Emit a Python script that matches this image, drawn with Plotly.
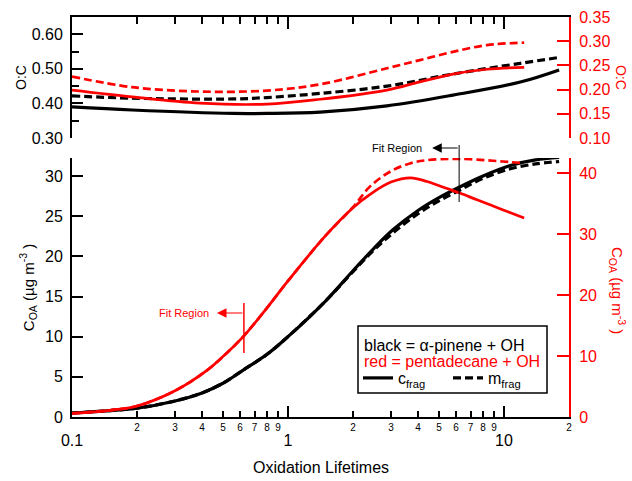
import math
import plotly.graph_objects as go

# ---------------- data ----------------
# top panel (O:C)
x_oc_black = [0.1, 0.19, 0.556, 0.8, 1.41, 2.87, 5.8, 11.9, 18]
oc_black_c = [0.390, 0.381, 0.371, 0.371, 0.375, 0.393, 0.424, 0.462, 0.497]
oc_black_m = [0.422, 0.415, 0.413, 0.417, 0.429, 0.450, 0.485, 0.516, 0.533]

x_oc_red = [0.1, 0.19, 0.39, 0.8, 1.41, 2.87, 4.08, 5.8, 8.34, 12.4]
oc_red_c = [0.199, 0.185, 0.172, 0.170, 0.180, 0.199, 0.216, 0.232, 0.242, 0.246]
oc_red_m = [0.227, 0.205, 0.196, 0.198, 0.211, 0.244, 0.261, 0.278, 0.292, 0.297]

# bottom panel (C_OA)
x_coa_black = [0.1, 0.15, 0.2, 0.3, 0.4, 0.5, 0.625, 0.8, 1.0, 1.5, 2.0, 2.5,
               3.06, 4.0, 5.0, 6.2, 8.0, 10.7, 14, 18]
coa_black_c = [0.5, 0.8, 1.1, 2.0, 3.0, 4.2, 5.9, 7.8, 10.0, 14.5, 18.2, 21.0,
               23.3, 25.7, 27.3, 28.6, 30.0, 31.3, 32.0, 32.3]
coa_black_m = [0.5, 0.8, 1.1, 2.0, 3.0, 4.2, 5.9, 7.8, 10.0, 14.5, 18.1, 20.8,
               22.9, 25.3, 26.9, 28.2, 29.7, 30.9, 31.5, 31.8]

x_coa_red = [0.1, 0.15, 0.2, 0.3, 0.42, 0.5, 0.625, 0.8, 1.0, 1.5, 2.0, 2.4,
             3.0, 3.7, 4.4, 5.5, 6.25, 7.5, 8.9, 10.5, 12.4]
coa_red_c = [0.6, 1.1, 1.8, 4.3, 7.6, 9.9, 13.3, 17.9, 22.3, 29.8, 34.3, 36.5,
             38.5, 39.2, 38.6, 37.4, 36.7, 35.6, 34.6, 33.6, 32.6]
coa_red_m = [0.6, 1.1, 1.8, 4.3, 7.6, 9.9, 13.3, 17.9, 22.3, 29.8, 34.4, 37.8,
             40.3, 41.6, 42.1, 42.3, 42.3, 42.2, 42.0, 41.8, 41.6]

# fit-region boundaries (oxidation lifetimes)
fit_red = 0.625
fit_black = 6.2

# tick labels
minor_vals = [0.2, 0.3, 0.4, 0.5, 0.6, 0.7, 0.8, 0.9, 2, 3, 4, 5, 6, 7, 8, 9, 20]
minor_text = ["2", "3", "4", "5", "6", "7", "8", "9", "2", "3", "4", "5", "6", "7", "8", "9", "2"]
major_vals = [0.1, 1, 10]
major_text = ["0.1", "1", "10"]

# ---------------- figure ----------------
FONT = "Liberation Sans, Arial, sans-serif"
RED = "#ff0000"
BLACK = "#000000"
DASH = "8px,4px"
LWB = 3.2
LWR = 2.7

# plot-area pixel geometry helpers
L, R, T, B = 72, 569, 17, 417
PW, PH = R - L, B - T


def px(xpix):
    return (xpix - L) / PW


def py(ypix):
    return (B - ypix) / PH


fig = go.Figure()

# top panel
fig.add_trace(go.Scatter(x=x_oc_black, y=oc_black_c, mode="lines", line=dict(color=BLACK, width=LWB, shape="spline"),
                         xaxis="x2", yaxis="y3", showlegend=False))
fig.add_trace(go.Scatter(x=x_oc_black, y=oc_black_m, mode="lines", line=dict(color=BLACK, width=LWB, dash=DASH, shape="spline"),
                         xaxis="x2", yaxis="y3", showlegend=False))
fig.add_trace(go.Scatter(x=x_oc_red, y=oc_red_c, mode="lines", line=dict(color=RED, width=LWR, shape="spline"),
                         xaxis="x2", yaxis="y4", showlegend=False))
fig.add_trace(go.Scatter(x=x_oc_red, y=oc_red_m, mode="lines", line=dict(color=RED, width=LWR, dash=DASH, shape="spline"),
                         xaxis="x2", yaxis="y4", showlegend=False))

# bottom panel
fig.add_trace(go.Scatter(x=x_coa_black, y=coa_black_c, mode="lines", line=dict(color=BLACK, width=LWB, shape="spline"),
                         xaxis="x", yaxis="y", name="c<sub>frag</sub>", showlegend=True))
fig.add_trace(go.Scatter(x=x_coa_black, y=coa_black_m, mode="lines", line=dict(color=BLACK, width=LWB, dash=DASH, shape="spline"),
                         xaxis="x", yaxis="y", name="m<sub>frag</sub>", showlegend=True))
fig.add_trace(go.Scatter(x=x_coa_red, y=coa_red_m, mode="lines", line=dict(color=RED, width=LWR, dash=DASH, shape="spline"),
                         xaxis="x", yaxis="y2", showlegend=False))
fig.add_trace(go.Scatter(x=x_coa_red, y=coa_red_c, mode="lines", line=dict(color=RED, width=LWR, shape="spline"),
                         xaxis="x", yaxis="y2", showlegend=False))
# empty trace so the overlaid major-label axis is drawn
fig.add_trace(go.Scatter(x=[None], y=[None], mode="lines", xaxis="x3", yaxis="y",
                         showlegend=False, hoverinfo="skip"))

xr = [-1, math.log10(20)]
tickfont = dict(family=FONT, size=16, color=BLACK)
redfont = dict(family=FONT, size=16, color=RED)
titlefont = dict(family=FONT, size=15, color=BLACK)
octitle = dict(family=FONT, size=14, color=BLACK)

fig.update_layout(
    width=632, height=481,
    margin=dict(l=L, r=632 - R, t=T, b=481 - B, autoexpand=False),
    paper_bgcolor="white", plot_bgcolor="white",
    font=dict(family=FONT, size=15, color=BLACK),
    xaxis=dict(type="log", range=xr, domain=[0, 1], anchor="y",
               showline=True, linecolor=BLACK, linewidth=2, showgrid=False, zeroline=False,
               ticks="inside", ticklen=6, tickwidth=1.5, tickcolor=BLACK,
               tickvals=minor_vals, ticktext=minor_text,
               tickfont=dict(family=FONT, size=10, color=BLACK)),
    xaxis3=dict(type="log", range=xr, overlaying="x", anchor="y", side="bottom",
                showline=False, showgrid=False, zeroline=False,
                ticks="inside", ticklen=11, tickwidth=1.5, tickcolor=BLACK,
                tickvals=major_vals, ticktext=major_text, tickfont=tickfont,
                ticklabelstandoff=12),
    xaxis2=dict(type="log", range=xr, domain=[0, 1], anchor="y3", side="top",
                showline=True, linecolor=BLACK, linewidth=2, showgrid=False, zeroline=False,
                ticks="inside", ticklen=12, tickwidth=1.5, tickcolor=BLACK,
                tickvals=[1, 10], showticklabels=False,
                minor=dict(tickvals=[0.2, 0.3, 0.4, 0.5, 0.6, 0.7, 0.8, 0.9, 2, 3, 4, 5, 6, 7, 8, 9],
                           ticks="inside", ticklen=7, tickwidth=1.5, tickcolor=BLACK, showgrid=False)),
    yaxis=dict(domain=[0, py(158)], range=[0, 32.24], anchor="x",
               showline=True, linecolor=BLACK, linewidth=2, showgrid=False, zeroline=False,
               ticks="inside", ticklen=11, tickwidth=1.5, tickcolor=BLACK,
               tickvals=[0, 5, 10, 15, 20, 25, 30], tickfont=tickfont, ticklabelstandoff=4,
               title=dict(text="C<sub>OA</sub> (µg m<sup>-3</sup> )", font=titlefont, standoff=7)),
    yaxis2=dict(range=[0, 42.45], overlaying="y", anchor="x", side="right",
                showline=True, linecolor=RED, linewidth=2, showgrid=False, zeroline=False,
                ticks="inside", ticklen=12, tickwidth=1.5, tickcolor=RED,
                tickvals=[0, 10, 20, 30, 40], tickfont=redfont, ticklabelstandoff=5),
    yaxis3=dict(domain=[py(138), 1], range=[0.3, 0.65], anchor="x2",
                showline=True, linecolor=BLACK, linewidth=2, showgrid=False, zeroline=False,
                ticks="inside", ticklen=11, tickwidth=1.5, tickcolor=BLACK,
                tickvals=[0.3, 0.4, 0.5, 0.6], tickformat=".2f", tickfont=tickfont, ticklabelstandoff=4,
                minor=dict(tickvals=[0.35, 0.45, 0.55], ticks="inside", ticklen=7, tickwidth=1.5,
                           tickcolor=BLACK, showgrid=False),
                title=dict(text="O:C", font=octitle, standoff=2)),
    yaxis4=dict(range=[0.1, 0.35], overlaying="y3", anchor="x2", side="right",
                showline=True, linecolor=RED, linewidth=2, showgrid=False, zeroline=False,
                ticks="inside", ticklen=12, tickwidth=1.5, tickcolor=RED,
                tickvals=[0.10, 0.15, 0.20, 0.25, 0.30, 0.35], tickformat=".2f", tickfont=redfont,
                ticklabelstandoff=5),
    legend=dict(
        x=px(358), y=py(361), xanchor="left", yanchor="top",
        orientation="h", bgcolor="rgba(0,0,0,0)", borderwidth=0,
        font=dict(family=FONT, size=16, color=BLACK),
        itemwidth=30, entrywidth=45, entrywidthmode="pixels",
    ),
)

# legend frame and its two text lines
fig.add_shape(type="rect", xref="paper", yref="paper", x0=px(358), x1=px(547), y0=py(393), y1=py(326),
              line=dict(color=BLACK, width=1.5), fillcolor="white", layer="below")
fig.add_annotation(text="black = α-pinene + OH", xref="paper", yref="paper", x=px(362), y=py(345),
                   xanchor="left", yanchor="middle", showarrow=False, font=dict(family=FONT, size=16, color=BLACK))
fig.add_annotation(text="red = pentadecane + OH", xref="paper", yref="paper", x=px(362), y=py(361),
                   xanchor="left", yanchor="middle", showarrow=False, font=dict(family=FONT, size=16, color=RED))

# x-axis title
fig.add_annotation(text="Oxidation Lifetimes", xref="paper", yref="paper", x=px(321), y=py(467),
                   xanchor="center", yanchor="middle", showarrow=False, font=dict(family=FONT, size=16, color=BLACK))

# right-hand axis titles (rotated to read top-to-bottom)
fig.add_annotation(text="O:C", xref="paper", yref="paper", x=px(621), y=py(77),
                   showarrow=False, textangle=90, font=dict(family=FONT, size=14, color=RED),
                   xanchor="center", yanchor="middle")
fig.add_annotation(text="C<sub>OA</sub> (µg m<sup>-3</sup> )", xref="paper", yref="paper",
                   x=px(618), y=py(290),
                   showarrow=False, textangle=90, font=dict(family=FONT, size=15, color=RED),
                   xanchor="center", yanchor="middle")

# Fit region markers
fig.add_shape(type="line", xref="x", yref="paper", x0=fit_red, x1=fit_red,
              y0=py(303), y1=py(353), line=dict(color=RED, width=1.5))
fig.add_annotation(x=math.log10(fit_red) - 27 / 216, y=py(313), xref="x", yref="paper",
                   ax=27, ay=0, text="", showarrow=True, arrowhead=2, arrowsize=1.6, arrowwidth=1.2,
                   arrowcolor=RED)
fig.add_annotation(x=math.log10(fit_red), y=py(313), xref="x", yref="paper", xshift=-33,
                   text="Fit Region", showarrow=False, xanchor="right", yanchor="middle",
                   font=dict(family=FONT, size=11, color=RED))
fig.add_shape(type="line", xref="x", yref="paper", x0=fit_black, x1=fit_black,
              y0=py(145), y1=py(202), line=dict(color=BLACK, width=1))
fig.add_annotation(x=math.log10(fit_black) - 27 / 216, y=py(148), xref="x", yref="paper",
                   ax=27, ay=0, text="", showarrow=True, arrowhead=2, arrowsize=1.6, arrowwidth=1.2,
                   arrowcolor=BLACK)
fig.add_annotation(x=math.log10(fit_black), y=py(148), xref="x", yref="paper", xshift=-35,
                   text="Fit Region", showarrow=False, xanchor="right", yanchor="middle",
                   font=dict(family=FONT, size=11, color=BLACK))

fig.write_html("out.html", config={"displayModeBar": False},
               post_script="document.body.style.margin='0px';")
